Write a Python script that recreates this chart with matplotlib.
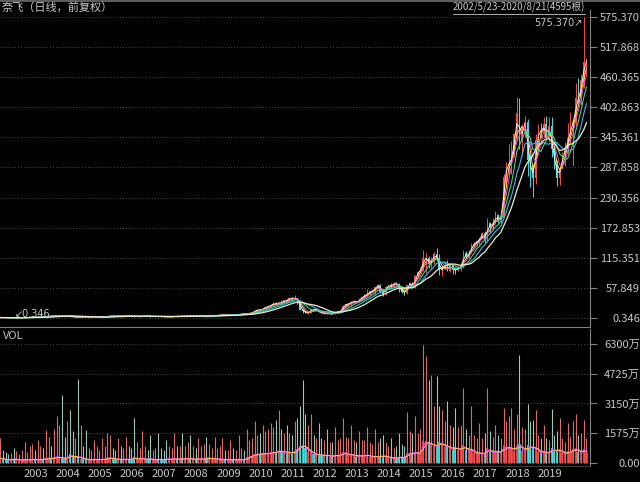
"""奈飞 月度K线 + 成交量 (仿行情软件深色风格)."""

import matplotlib

matplotlib.use("Agg")
import matplotlib.dates as mdates
import matplotlib.pyplot as plt
import matplotlib.transforms as mtransforms
import numpy as np
import pandas as pd
from matplotlib.lines import Line2D

plt.rcParams["font.family"] = ["Noto Sans CJK SC", "DejaVu Sans"]

# 月度数据 2002-05 ... 2020-08 (前复权价格, 成交量单位: 万)
close = [
    1.16, 1.00, 0.75, 0.65, 0.69, 0.43, 0.79, 0.79,
    0.93, 1.40, 1.45, 1.62, 1.85, 1.83, 2.05, 2.45, 2.40, 3.50, 4.05, 3.90,
    4.3, 4.5, 4.9, 4.6, 4.1, 5.1, 3.0, 2.1, 2.2, 1.6, 1.9, 1.8,
    1.6, 1.6, 1.6, 1.7, 2.0, 2.3, 2.4, 2.7, 3.7, 4.1, 4.0, 3.9,
    4.1, 4.0, 4.1, 4.4, 4.1, 3.9, 2.9, 2.9, 3.1, 3.9, 4.0, 3.7,
    3.1, 3.3, 3.3, 3.0, 2.9, 2.7, 2.4, 2.6, 2.9, 3.7, 3.3, 3.9,
    3.6, 4.3, 5.0, 4.3, 4.3, 3.7, 4.3, 4.4, 4.4, 2.9, 3.1, 4.3,
    5.1, 5.3, 6.1, 6.4, 5.9, 5.9, 6.3, 6.0, 6.6, 7.4, 8.0, 7.9,
    8.9, 9.3, 10.6, 14.3, 16.0, 15.6, 18.4, 20.7, 23.1, 24.7, 29.3, 25.1,
    30.3, 29.3, 33.9, 33.3, 38.9, 37.6, 37.7, 33.6, 16.1, 13.4, 9.4, 9.9,
    17.1, 15.7, 16.4, 11.4, 9.0, 9.7, 8.0, 8.6, 7.7, 11.4, 12.6, 13.3,
    23.6, 26.9, 27.0, 30.9, 32.1, 30.1, 34.9, 40.6, 44.1, 46.1, 51.4, 52.6,
    58.6, 63.6, 50.3, 46.0, 59.7, 62.9, 60.4, 68.1, 64.4, 56.1, 49.3, 48.9,
    63.0, 67.7, 59.6, 79.6, 89.1, 93.9, 114.3, 115.0, 103.3, 108.4, 123.3, 114.4,
    91.8, 93.4, 102.2, 90.0, 102.6, 91.5, 91.3, 97.5, 98.6, 124.9, 117.0, 123.8,
    140.7, 142.1, 147.8, 152.2, 163.1, 149.4, 181.7, 174.7, 181.4, 196.4, 187.6, 192.0,
    270.3, 291.4, 295.4, 312.5, 351.6, 391.4, 337.5, 367.7, 374.1, 301.8, 286.1, 267.7,
    339.5, 358.1, 356.6, 370.5, 343.3, 367.3, 323.0, 294.2, 267.6, 287.4, 314.7, 323.6,
    345.1, 369.0, 375.5, 419.9, 419.7, 455.0, 488.9, 491.9,
]
high = [
    1.25, 1.22, 1.02, 0.80, 0.75, 0.70, 0.85, 0.92,
    1.00, 1.45, 1.60, 1.75, 2.00, 2.05, 2.15, 2.55, 2.70, 3.60, 4.40, 4.30,
    5.3, 4.8, 5.5, 5.2, 4.8, 5.6, 5.2, 3.1, 2.6, 2.4, 2.0, 2.0,
    1.9, 1.7, 1.7, 1.8, 2.1, 2.4, 2.6, 2.9, 3.8, 4.2, 4.2, 4.1,
    4.3, 4.2, 4.3, 4.6, 4.5, 4.2, 4.0, 3.1, 3.4, 4.1, 4.2, 4.1,
    3.8, 3.4, 3.5, 3.4, 3.1, 3.0, 2.8, 2.7, 3.0, 4.0, 3.8, 4.0,
    4.0, 4.4, 5.1, 5.3, 4.7, 4.4, 4.5, 4.6, 4.9, 4.5, 3.4, 4.4,
    5.2, 5.6, 6.2, 6.6, 6.5, 6.2, 6.5, 6.5, 6.7, 7.6, 8.3, 8.3,
    9.3, 9.6, 11.0, 15.0, 17.4, 18.0, 18.6, 21.0, 24.0, 25.3, 30.0, 30.0,
    31.0, 34.8, 35.5, 35.9, 39.8, 39.5, 43.6, 37.3, 31.8, 18.3, 13.4, 13.0,
    18.2, 18.0, 18.3, 16.3, 11.8, 10.3, 11.8, 9.2, 9.3, 11.9, 13.0, 13.7,
    24.4, 27.9, 28.2, 33.1, 34.5, 33.1, 38.5, 41.0, 45.6, 55.9, 52.3, 54.0,
    59.9, 65.0, 65.5, 53.9, 60.5, 64.2, 67.5, 68.3, 69.9, 66.8, 56.6, 52.7,
    64.0, 70.0, 69.0, 82.4, 89.9, 95.1, 129.3, 123.8, 118.0, 116.8, 125.6, 133.3,
    122.2, 98.8, 105.0, 110.3, 103.4, 102.4, 98.4, 98.9, 100.2, 129.3, 128.7, 129.3,
    143.0, 144.8, 148.3, 153.5, 165.2, 166.9, 191.5, 184.6, 191.5, 204.4, 199.4, 199.2,
    275.0, 297.9, 333.0, 338.8, 354.0, 423.2, 419.8, 370.8, 386.8, 381.1, 313.3, 295.0,
    352.0, 371.5, 373.0, 385.0, 386.0, 385.0, 385.0, 329.0, 303.0, 291.0, 318.0, 337.0,
    373.0, 393.5, 380.0, 449.5, 458.0, 467.0, 575.37, 497.0,
]
low = [
    1.00, 0.95, 0.62, 0.55, 0.60, 0.346, 0.45, 0.72,
    0.75, 0.90, 1.25, 1.40, 1.55, 1.70, 1.80, 2.00, 2.25, 2.40, 3.40, 3.60,
    3.7, 3.9, 4.2, 4.3, 3.9, 4.0, 2.8, 2.0, 1.9, 1.4, 1.5, 1.6,
    1.4, 1.5, 1.5, 1.5, 1.7, 2.0, 2.2, 2.3, 2.7, 3.6, 3.7, 3.7,
    3.6, 3.8, 3.8, 4.0, 3.8, 3.6, 2.7, 2.6, 2.8, 3.1, 3.7, 3.6,
    3.0, 3.0, 3.0, 2.9, 2.7, 2.6, 2.3, 2.3, 2.6, 2.8, 3.1, 3.2,
    3.2, 3.5, 4.0, 4.2, 4.1, 3.7, 3.6, 4.1, 3.8, 2.6, 2.6, 3.0,
    4.1, 4.9, 5.1, 5.7, 5.5, 5.7, 5.7, 5.8, 5.8, 6.5, 7.4, 7.7,
    7.4, 8.0, 9.0, 10.3, 12.7, 15.0, 14.7, 17.0, 19.5, 20.8, 23.8, 24.8,
    24.5, 26.0, 26.6, 31.5, 33.1, 35.3, 36.2, 27.8, 15.8, 10.7, 9.2, 8.5,
    10.0, 15.3, 15.1, 11.0, 9.0, 8.7, 7.9, 7.9, 7.6, 8.6, 11.1, 12.3,
    13.2, 23.0, 23.8, 22.8, 29.7, 28.4, 30.3, 34.8, 40.2, 42.8, 43.3, 49.5,
    45.2, 57.0, 49.0, 42.1, 44.8, 58.0, 56.2, 60.4, 63.1, 50.5, 48.7, 45.1,
    45.3, 61.1, 58.6, 58.0, 78.0, 86.1, 89.4, 85.5, 96.3, 95.2, 104.0, 109.4,
    82.8, 79.9, 92.0, 89.8, 88.5, 84.8, 84.5, 90.7, 90.8, 95.9, 114.3, 115.4,
    124.3, 138.3, 137.2, 139.6, 152.4, 144.3, 146.0, 164.2, 169.8, 180.3, 181.0, 180.6,
    195.4, 250.1, 275.9, 275.5, 307.0, 338.2, 323.1, 310.9, 345.8, 271.2, 250.0, 231.2,
    256.6, 331.7, 343.5, 344.7, 344.2, 336.9, 307.1, 285.0, 252.3, 254.0, 284.0, 290.0,
    313.6, 334.9, 290.3, 367.0, 411.6, 407.0, 440.0, 464.0,
]
first_open = 1.07

vol_base = [
    250, 200, 180, 150, 170, 220, 180, 150,
    150, 200, 150, 180, 200, 170, 180, 200, 160, 260, 230, 200,
    300, 320, 280, 260, 240, 260, 450, 330, 250, 380, 230, 200,
    200, 170, 160, 190, 180, 170, 200, 190, 260, 280, 200, 190,
    210, 170, 180, 200, 190, 170, 320, 200, 180, 260, 190, 170,
    240, 170, 160, 200, 170, 160, 230, 190, 170, 260, 190, 180,
    260, 200, 220, 240, 190, 180, 240, 190, 200, 290, 230, 200,
    240, 180, 190, 200, 170, 160, 200, 160, 150, 190, 160, 150,
    300, 330, 360, 480, 430, 470, 520, 460, 500, 560, 530, 600,
    650, 600, 540, 600, 540, 480, 650, 750, 880, 950, 800, 600,
    600, 470, 400, 470, 400, 370, 440, 340, 340, 440, 370, 400,
    600, 470, 400, 470, 400, 340, 400, 370, 370, 440, 340, 300,
    370, 300, 370, 370, 340, 270, 300, 240, 240, 340, 270, 260,
    550, 480, 480, 600, 480, 540, 1150, 1100, 1000, 1000, 900, 900,
    1100, 1000, 850, 900, 780, 700, 850, 700, 700, 950, 700, 650,
    750, 520, 450, 600, 450, 520, 800, 600, 520, 650, 600, 520,
    950, 750, 800, 800, 650, 880, 1000, 650, 650, 950, 800, 800,
    800, 600, 520, 650, 520, 520, 800, 600, 650, 720, 520, 450,
    650, 520, 750, 750, 600, 520, 750, 520,
]
vol_peak = [
    1300, 700, 600, 500, 550, 800, 650, 450,
    700, 1100, 600, 900, 1000, 700, 1200, 900, 800, 1750, 1400, 900,
    1800, 2500, 2000, 3600, 1400, 2200, 2800, 1700, 1300, 4450, 2000, 900,
    1750, 800, 700, 1200, 900, 700, 1300, 900, 1600, 1500, 800, 700,
    1300, 900, 800, 1400, 900, 800, 2400, 1100, 800, 1700, 900, 700,
    1500, 700, 800, 1600, 800, 700, 1200, 900, 800, 1600, 900, 900,
    1600, 900, 1100, 1500, 900, 800, 1300, 900, 1000, 1400, 1000, 800,
    1400, 800, 900, 1300, 700, 700, 1200, 800, 700, 1500, 800, 700,
    1800, 1200, 1300, 2200, 1500, 1600, 2000, 1700, 1800, 2100, 1900, 2300,
    2800, 1800, 1600, 2000, 1600, 1500, 2200, 2400, 3000, 4400, 2600, 2000,
    2600, 1500, 1300, 2100, 1300, 1200, 1800, 1100, 1100, 1900, 1200, 1300,
    2400, 1400, 1300, 2000, 1200, 1100, 1700, 1200, 1200, 1900, 1100, 1000,
    1800, 1100, 1300, 1500, 1100, 900, 1300, 800, 900, 1600, 1000, 900,
    2700, 1700, 1600, 2500, 1600, 1800, 6250, 5650, 4400, 4650, 3000, 4600,
    3000, 2800, 2200, 3300, 2000, 1900, 2900, 1900, 2000, 3950, 1800, 1500,
    3000, 1500, 1300, 2100, 1300, 1600, 3950, 1700, 1400, 2000, 1500, 1300,
    2900, 2200, 2500, 2900, 1800, 2600, 5700, 1900, 1800, 3100, 2200, 2300,
    2800, 1500, 1300, 2000, 1300, 1200, 2850, 1500, 1700, 2400, 1300, 1100,
    2100, 1400, 2200, 2600, 1500, 1600, 2250, 1300,
]

years = list(range(2003, 2020))
price_ticks = [0.346, 57.849, 115.351, 172.853, 230.356, 287.858,
               345.361, 402.863, 460.365, 517.868, 575.370]
vol_ticks = [0, 1575, 3150, 4725, 6300]
vol_tick_labels = ["0.00", "1575万", "3150万", "4725万", "6300万"]
title = "奈飞（日线，前复权）"
range_text = "2002/5/23-2020/8/21(4595根)"

BG = "black"
AXIS = "#808080"
TXT = "#c8c8c8"
GRID = "#4a4a4a"
UP = "#ff4a4a"
DOWN = "#3fe0e0"

close = np.array(close)
high = np.array(high)
low = np.array(low)
vol_base = np.array(vol_base)
vol_peak = np.array(vol_peak)

months = pd.date_range("2002-05-01", periods=len(close), freq="MS") + pd.Timedelta(days=14)
x = mdates.date2num(months)
opens = np.r_[first_open, close[:-1]]
up = close >= opens
ccol = np.where(up, UP, DOWN)

fig = plt.figure(figsize=(6.4, 4.82), dpi=100, facecolor=BG)
W, H = 640, 482
ax1 = fig.add_axes([0, 1 - 327 / H, 590 / W, 317 / H], facecolor=BG)
ax2 = fig.add_axes([0, 1 - 466 / H, 590 / W, 137 / H], facecolor=BG, sharex=ax1)

# ---- K线 ----
ax1.vlines(x, low, high, colors=ccol, lw=0.7, zorder=2)
body_lo = np.minimum(opens, close)
body_h = np.maximum(np.abs(close - opens), 0.6)
ax1.bar(x, body_h, bottom=body_lo, width=18, color=ccol, lw=0, zorder=3)

s = pd.Series(close)
ma_styles = [(2, "#f4f4f4", 0.7), (3, "#ffe040", 0.7), (4, "#ff50ff", 0.6),
             (6, "#30e070", 0.8), (9, "#40b8e8", 0.8), (13, "#f0ecc0", 0.9)]
for n, col, lw in ma_styles:
    ax1.plot(x, s.rolling(n, min_periods=1).mean(), color=col, lw=lw, zorder=4)

ax1.set_ylim(-16.9, 588.7)
ax1.set_yticks(price_ticks)
ax1.set_yticklabels([f"{v:.3f}" for v in price_ticks])

i_max = int(np.argmax(high))
i_min = int(np.argmin(low))
ax1.annotate(f"{high[i_max]:.3f}↗", xy=(x[i_max], high[i_max]), xytext=(-1, -1),
             textcoords="offset points", ha="right", va="top", fontsize=7,
             color=TXT, family=["DejaVu Sans"])
ax1.annotate(f"↙{low[i_min]:.3f}", xy=(x[i_min], low[i_min]), xytext=(1, -1),
             textcoords="offset points", ha="left", va="bottom", fontsize=7,
             color=TXT, family=["DejaVu Sans"])

# ---- 成交量 ----
pcol = np.where(up, "#e06868", "#9cc8b6")
ax2.vlines(x, 0, vol_peak, colors=pcol, lw=0.8, zorder=2)
ax2.bar(x, vol_base, width=24, color=ccol, lw=0, alpha=0.85, zorder=3)
vs = pd.Series(vol_base)
ax2.plot(x, vs.rolling(2, min_periods=1).mean(), color="#ff40ff", lw=1.0, zorder=4)
ax2.plot(x, vs.rolling(3, min_periods=1).mean(), color="#ffd040", lw=0.6, zorder=4)
ax2.set_ylim(-159, 7089)
ax2.set_yticks(vol_ticks)
ax2.set_yticklabels(vol_tick_labels)

ax1.set_xlim(mdates.datestr2num("2002-05-12"), mdates.datestr2num("2020-09-24"))
ticks = [mdates.datestr2num(f"{y}-01-01") for y in years]
ax2.set_xticks(ticks)
ax2.set_xticklabels([str(y) for y in years])
offset = mtransforms.ScaledTranslation(2 / 72, 0, fig.dpi_scale_trans)

for ax in (ax1, ax2):
    ax.grid(axis="y", color=GRID, linestyle=(0, (1, 2)), lw=0.7)
    ax.grid(axis="x", visible=False)
    ax.set_axisbelow(True)
    ax.yaxis.tick_right()
    ax.tick_params(axis="y", colors=TXT, color=AXIS, length=5, width=0.8,
                   labelsize=8, pad=31)
    for lab in ax.get_yticklabels():
        lab.set_horizontalalignment("right")
    for side in ("top", "left"):
        ax.spines[side].set_visible(False)
    ax.spines["right"].set_color(AXIS)
    ax.spines["bottom"].set_color(AXIS)

ax1.tick_params(axis="x", bottom=False, labelbottom=False)
ax2.spines["bottom"].set_color("#404040")
ax2.tick_params(axis="x", length=0, colors=TXT, labelsize=8, pad=2)
for lab in ax2.get_xticklabels():
    lab.set_horizontalalignment("left")
    lab.set_transform(lab.get_transform() + offset)

# ---- 文字 ----
fig.add_artist(Line2D([0, 1], [1 - 1 / H] * 2, color="#707070", lw=1.2))
fig.text(2 / W, 1 - 7 / H, title, va="center", ha="left", fontsize=8, color=TXT)
t = fig.text(585 / W, 1 - 7 / H, range_text, va="center", ha="right",
             fontsize=7, color=TXT)
fig.text(3 / W, 1 - 336 / H, "VOL", va="center", ha="left", fontsize=8, color=TXT)

fig.canvas.draw()
bb = t.get_window_extent()
fig.add_artist(Line2D([bb.x0 / W, bb.x1 / W], [(bb.y0 - 1) / H] * 2, color=TXT, lw=0.6))

fig.savefig("out.png", dpi=100, facecolor=BG)
